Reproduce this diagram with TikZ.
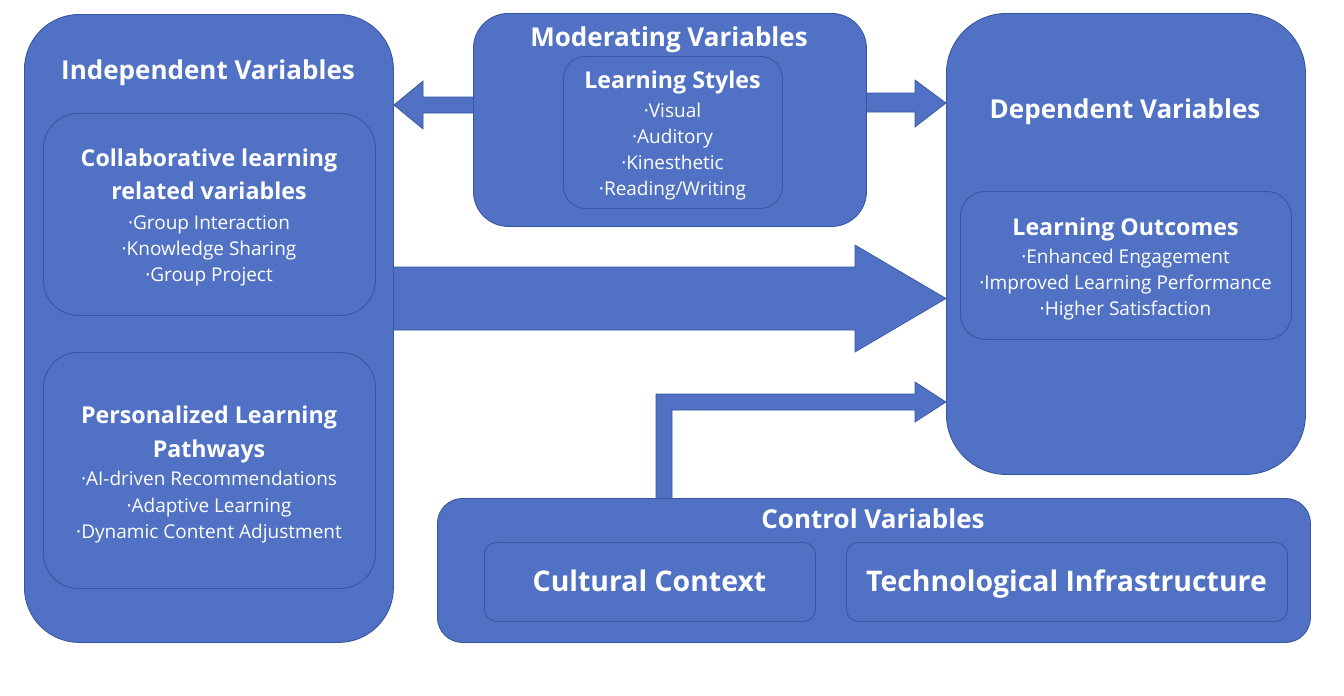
\documentclass[tikz,border=0pt]{standalone}
\usepackage{fontspec}
\setmainfont{Open Sans}
\usetikzlibrary{calc}
\definecolor{fillb}{RGB}{81,114,196}
\definecolor{edgeb}{RGB}{55,88,160}
\begin{document}
\begin{tikzpicture}[x=1pt,y=-1pt,
  box/.style={fill=fillb, draw=edgeb, line width=0.9pt, anchor=north west, inner sep=0pt},
  blockarrow/.style={fill=fillb, draw=edgeb, line width=0.7pt, line join=miter},
  ttl/.style={text=white, anchor=base, inner sep=0pt, font=\fontsize{26}{30}\selectfont\bfseries},
  sub/.style={text=white, anchor=base, inner sep=0pt, font=\fontsize{23.2}{28}\selectfont\bfseries},
  itm/.style={text=white, anchor=base, inner sep=0pt, font=\fontsize{19}{24}\selectfont},
  big/.style={text=white, anchor=base, inner sep=0pt, font=\fontsize{28.4}{34}\selectfont\bfseries}]
\useasboundingbox (0,0) rectangle (1344,696);
\fill[white] (0,0) rectangle (1344,696);
% invisible anchors for boxes (drawn later)
\node[box, draw=none, fill=none, minimum width=369pt, minimum height=628pt] (indep) at (24,14) {};
\node[box, draw=none, fill=none, minimum width=393pt, minimum height=213pt] (mod) at (473,13) {};
\node[box, draw=none, fill=none, minimum width=359pt, minimum height=461pt] (dep) at (946,13) {};
\node[box, draw=none, fill=none, minimum width=873pt, minimum height=144pt] (ctrl) at (437,498) {};
% arrows
\draw[blockarrow] ($(mod.west |- 0,97)+(4,0)$) -- (423,97) -- (423,81) -- (indep.east |- 0,105) -- (423,129) -- (423,113) -- ($(mod.west |- 0,113)+(4,0)$) -- cycle;
\draw[blockarrow] ($(mod.east |- 0,93)+(-4,0)$) -- (915,93) -- (915,80) -- (dep.west |- 0,103) -- (915,127) -- (915,112) -- ($(mod.east |- 0,112)+(-4,0)$) -- cycle;
\draw[blockarrow] ($(indep.east |- 0,267)+(-4,0)$) -- (855,267) -- (855,245) -- (dep.west |- 0,298.5) -- (855,352) -- (855,330) -- ($(indep.east |- 0,330)+(-4,0)$) -- cycle;
\draw[blockarrow] ($(ctrl.north -| 656,0)+(0,4)$) -- (656,394) -- (915,394) -- (915,382) -- (dep.west |- 0,402) -- (915,422) -- (915,410) -- (672,410) -- ($(ctrl.north -| 672,0)+(0,4)$) -- cycle;
% boxes
\node[box, rounded corners=55pt, minimum width=369pt, minimum height=628pt] (indepbox) at (24,14) {};
\node[box, rounded corners=35pt, minimum width=393pt, minimum height=213pt] (modbox) at (473,13) {};
\node[box, rounded corners=60pt, minimum width=359pt, minimum height=461pt] (depbox) at (946,13) {};
\node[box, rounded corners=25pt, minimum width=873pt, minimum height=144pt] (ctrlbox) at (437,498) {};
% inner boxes
\node[box, rounded corners=35pt, minimum width=332pt, minimum height=202pt] (collab) at (43,113) {};
\node[box, rounded corners=35pt, minimum width=332pt, minimum height=236pt] (pers) at (43,352) {};
\node[box, rounded corners=22pt, minimum width=219pt, minimum height=152pt] (styles) at (563,56) {};
\node[box, rounded corners=25pt, minimum width=331pt, minimum height=148pt] (outc) at (960,191) {};
\node[box, rounded corners=12pt, minimum width=331pt, minimum height=79pt] (cult) at (484,542) {};
\node[box, rounded corners=12pt, minimum width=441pt, minimum height=79pt] (tech) at (846,542) {};
% texts
\node[ttl] (t1) at (208,79) {Independent Variables};
\node[sub] (c1) at (209,166.5) {Collaborative learning};
\node[sub] (c2) at (209,199.5) {related variables};
\node[itm] (c3) at (209,229) {·Group Interaction};
\node[itm] (c4) at (209,255) {·Knowledge Sharing};
\node[itm] (c5) at (209,281) {·Group Project};
\node[sub] (p1) at (209,423.5) {Personalized Learning};
\node[sub] (p2) at (209,457.5) {Pathways};
\node[itm] (p3) at (209,485) {·AI-driven Recommendations};
\node[itm] (p4) at (209,512) {·Adaptive Learning};
\node[itm] (p5) at (209,538) {·Dynamic Content Adjustment};
\node[ttl] (t2) at (669,46) {Moderating Variables};
\node[sub] (s1) at (672.5,88.5) {Learning Styles};
\node[itm] (s2) at (672.5,117) {·Visual};
\node[itm] (s3) at (672.5,143) {·Auditory};
\node[itm] (s4) at (672.5,169) {·Kinesthetic};
\node[itm] (s5) at (672.5,195) {·Reading/Writing};
\node[ttl] (t3) at (1125,118) {Dependent Variables};
\node[sub] (o1) at (1125.5,235.5) {Learning Outcomes};
\node[itm] (o2) at (1125.5,263) {·Enhanced Engagement};
\node[itm] (o3) at (1125.5,289) {·Improved Learning Performance};
\node[itm] (o4) at (1125.5,315) {·Higher Satisfaction};
\node[ttl] (t4) at (873,528) {Control Variables};
\node[big] (k1) at (649.5,591) {Cultural Context};
\node[big] (k2) at (1066.5,591) {Technological Infrastructure};
\end{tikzpicture}
\end{document}
